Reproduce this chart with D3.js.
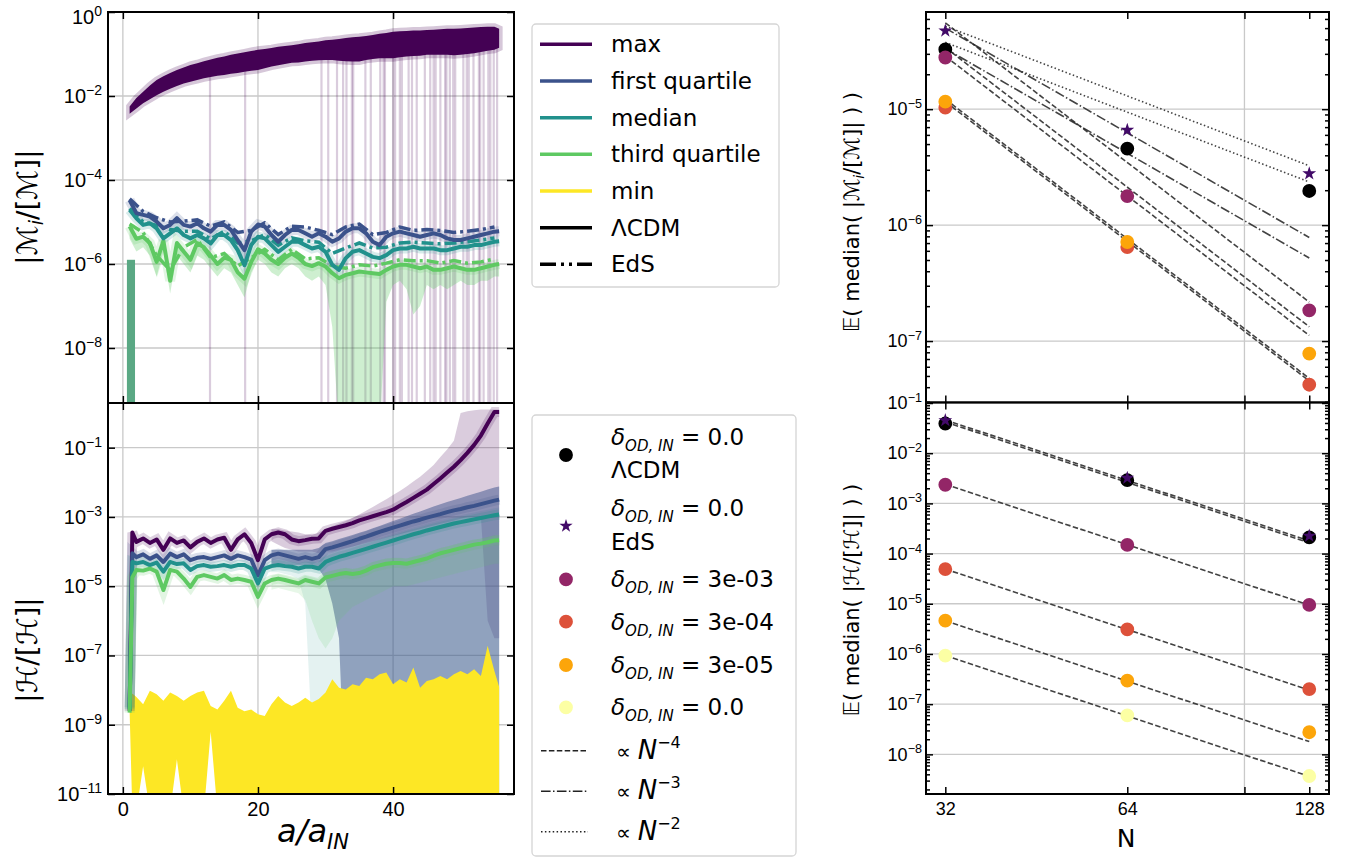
<!DOCTYPE html>
<html>
<head>
<meta charset="utf-8">
<script src="https://cdn.jsdelivr.net/npm/d3@7.9.0/dist/d3.min.js"></script>
<style>
  body { margin: 0; background: #fff; }
  svg { display: block; font-family: "DejaVu Sans", sans-serif; }
</style>
</head>
<body>
<svg id="fig" width="1363" height="857"></svg>
<script>
// ---- sample positions along a/a_IN ----
const aM = d3.range(1, 56).concat([55.7]);          // constraint M, LCDM curves
const aOdd = d3.range(1, 56, 2);                    // constraint M, EdS curves
const aH = [1, 1.4].concat(d3.range(2, 56), [55.7]); // constraint H curves
const aFill = d3.range(22, 56).concat([55.7]);      // spread bands in H panel

// ---- |M_i/[M]| (log10 values) ----
const maxMHi = [-2.25,-2.05,-1.90,-1.75,-1.62,-1.53,-1.45,-1.38,-1.32,-1.26,
  -1.22,-1.17,-1.13,-1.09,-1.06,-1.02,-0.99,-0.96,-0.93,-0.90,
  -0.88,-0.86,-0.83,-0.81,-0.79,-0.77,-0.74,-0.72,-0.70,-0.67,
  -0.66,-0.64,-0.62,-0.60,-0.59,-0.57,-0.55,-0.52,-0.50,-0.47,
  -0.46,-0.45,-0.44,-0.44,-0.43,-0.42,-0.41,-0.40,-0.40,-0.39,
  -0.38,-0.37,-0.36,-0.35,-0.35,-0.40];
const maxMLo = [-2.42,-2.30,-2.17,-2.08,-1.98,-1.90,-1.83,-1.76,-1.70,-1.66,
  -1.62,-1.58,-1.55,-1.52,-1.50,-1.47,-1.45,-1.42,-1.40,-1.38,
  -1.34,-1.30,-1.27,-1.24,-1.21,-1.20,-1.18,-1.16,-1.15,-1.14,
  -1.14,-1.16,-1.17,-1.18,-1.18,-1.14,-1.12,-1.10,-1.10,-1.10,
  -1.08,-1.06,-1.05,-1.04,-1.02,-1.02,-1.02,-1.02,-1.03,-1.02,
  -1.00,-0.98,-0.95,-0.92,-0.90,-0.85];
const q1M = [-4.48,-4.79,-4.83,-4.87,-4.99,-5.15,-5.07,-4.91,-5.07,-5.11,
  -5.03,-5.15,-5.23,-5.07,-5.07,-5.19,-5.43,-5.67,-5.23,-5.06,
  -5.11,-5.31,-5.47,-5.31,-5.19,-5.19,-5.27,-5.35,-5.27,-5.35,
  -5.47,-5.39,-5.23,-5.15,-5.15,-5.27,-5.47,-5.55,-5.35,-5.27,
  -5.23,-5.27,-5.31,-5.35,-5.31,-5.27,-5.31,-5.39,-5.43,-5.43,
  -5.39,-5.35,-5.31,-5.27,-5.23,-5.22];
const medM = [-4.71,-4.91,-5.07,-5.03,-5.15,-5.39,-5.27,-5.15,-5.31,-5.39,
  -5.31,-5.39,-5.51,-5.31,-5.31,-5.43,-5.67,-6.03,-5.55,-5.35,
  -5.39,-5.55,-5.71,-5.59,-5.47,-5.47,-5.55,-5.63,-5.59,-5.71,
  -6.02,-6.14,-5.86,-5.71,-5.67,-5.75,-5.83,-5.86,-5.79,-5.67,
  -5.63,-5.63,-5.59,-5.63,-5.63,-5.63,-5.67,-5.67,-5.63,-5.59,
  -5.59,-5.55,-5.55,-5.51,-5.47,-5.46];
const q3M = [-5.10,-5.40,-5.35,-5.50,-5.95,-5.45,-6.40,-5.50,-5.70,-5.90,
  -5.50,-5.60,-5.80,-6.00,-5.85,-5.90,-6.20,-6.35,-5.95,-5.65,
  -5.75,-5.90,-6.00,-5.85,-5.75,-5.85,-6.00,-6.05,-5.98,-6.06,
  -6.22,-6.34,-6.26,-6.22,-6.18,-6.20,-6.22,-6.24,-6.14,-6.06,
  -6.02,-6.02,-6.06,-6.10,-6.06,-6.14,-6.14,-6.10,-6.06,-6.10,
  -6.14,-6.14,-6.10,-6.06,-6.02,-6.00];
const q3MShadeLo = [-5.40,-5.70,-5.60,-5.80,-6.30,-5.70,-6.70,-5.80,-6.00,-6.20,
  -5.80,-5.90,-6.10,-6.30,-6.10,-6.20,-6.50,-6.80,-6.20,-5.90,
  -6.00,-6.20,-6.30,-6.10,-6.00,-6.10,-6.30,-6.40,-6.30,-6.50,
  -7.50,-10.0,-10.0,-10.0,-10.0,-10.0,-10.0,-10.0,-6.90,-6.50,
  -6.40,-6.60,-7.20,-7.00,-6.50,-6.60,-6.50,-6.60,-6.50,-6.40,
  -6.50,-6.50,-6.40,-6.40,-6.30,-6.30];
const q1MEdS = [-4.45,-4.75,-4.90,-5.00,-4.98,-4.95,-5.10,-5.00,-5.25,-5.20,
  -5.02,-5.30,-5.10,-5.12,-5.20,-5.30,-5.12,-5.05,-5.30,-5.25,
  -5.12,-5.20,-5.18,-5.20,-5.25,-5.22,-5.18,-5.12];
const medMEdS = [-4.68,-5.00,-5.08,-5.18,-5.22,-5.22,-5.40,-5.22,-5.50,-5.45,
  -5.30,-5.55,-5.38,-5.45,-5.48,-5.75,-5.62,-5.50,-5.62,-5.60,
  -5.50,-5.48,-5.50,-5.52,-5.50,-5.47,-5.43,-5.38];
const q3MEdS = [-5.05,-5.25,-5.80,-6.15,-5.60,-5.42,-5.85,-5.75,-6.05,-5.85,
  -5.65,-5.90,-5.65,-5.88,-5.85,-6.05,-6.10,-6.02,-6.05,-5.98,
  -5.90,-5.92,-5.92,-5.98,-5.92,-5.98,-5.95,-5.88];
// runs whose max drops far down (a/a_IN positions of the faint purple streaks)
const maxMDips = [12.9, 18.1, 29.4, 30.4, 31.7, 32.6, 33.1, 33.9, 34.1, 35.9,
  36.7, 38.1, 38.6, 38.8, 40.0, 40.3, 41.0, 41.3, 42.3, 42.8, 43.5, 44.7,
  45.5, 46.0, 46.3, 47.0, 47.7, 47.9, 48.4, 48.9, 49.2, 50.4, 50.9, 51.2,
  51.9, 52.7, 52.9, 53.4, 54.1, 54.4, 54.9, 55.4];
const startBar = { a0: 0.6, a1: 1.8, top: -5.9 };

// ---- |H/[H]| (log10 values) ----
const maxH = [-8.60,-3.45,
  -3.72,-3.62,-3.75,-3.65,-3.95,-3.62,-3.75,-3.68,-3.88,-3.72,
  -3.62,-3.75,-3.65,-3.60,-3.95,-3.65,-3.50,-3.75,-4.25,-3.65,
  -3.50,-3.45,-3.50,-3.65,-3.70,-3.67,-3.63,-3.62,-3.40,-3.34,
  -3.29,-3.24,-3.18,-3.10,-3.04,-2.98,-2.92,-2.86,-2.79,-2.68,
  -2.57,-2.45,-2.33,-2.21,-2.05,-1.89,-1.72,-1.55,-1.36,-1.15,
  -0.92,-0.65,-0.30,0.03,
  0.03];
const q1H = [-8.50,-4.05,
  -4.16,-4.08,-4.21,-4.11,-4.30,-4.06,-4.16,-4.08,-4.25,-4.18,
  -4.16,-4.21,-4.16,-4.11,-4.21,-4.11,-4.16,-4.23,-4.69,-4.25,
  -4.11,-4.06,-4.11,-4.16,-4.21,-4.16,-4.21,-4.16,-3.93,-3.88,
  -3.82,-3.76,-3.70,-3.63,-3.57,-3.50,-3.43,-3.37,-3.31,-3.25,
  -3.19,-3.13,-3.08,-3.02,-2.97,-2.92,-2.86,-2.81,-2.77,-2.72,
  -2.68,-2.63,-2.58,-2.53,
  -2.50];
const medH = [-8.55,-4.30,
  -4.34,-4.30,-4.39,-4.32,-4.58,-4.30,-4.36,-4.34,-4.53,-4.42,
  -4.39,-4.44,-4.42,-4.39,-4.44,-4.39,-4.39,-4.49,-4.92,-4.49,
  -4.42,-4.39,-4.42,-4.44,-4.49,-4.44,-4.44,-4.49,-4.30,-4.22,
  -4.15,-4.10,-4.04,-3.98,-3.92,-3.86,-3.80,-3.74,-3.68,-3.62,
  -3.56,-3.50,-3.45,-3.39,-3.34,-3.29,-3.24,-3.19,-3.15,-3.11,
  -3.07,-3.03,-2.99,-2.95,
  -2.93];
const q3H = [-8.65,-4.75,
  -4.53,-4.55,-4.49,-4.58,-5.11,-4.53,-4.58,-4.78,-5.02,-4.73,
  -4.68,-4.73,-4.78,-4.68,-4.82,-4.78,-4.82,-4.87,-5.31,-4.92,
  -4.82,-4.78,-4.82,-4.87,-4.92,-4.82,-4.87,-4.92,-4.75,-4.70,
  -4.65,-4.62,-4.65,-4.62,-4.55,-4.45,-4.40,-4.35,-4.33,-4.33,
  -4.35,-4.30,-4.25,-4.20,-4.12,-4.05,-4.00,-3.95,-3.90,-3.85,
  -3.80,-3.77,-3.73,-3.68,
  -3.67];
const minHHi = [-8.30,-8.10,
  -8.20,-8.41,-8.02,-8.12,-8.31,-8.07,-8.17,-8.31,-8.17,-8.07,
  -8.02,-8.46,-8.56,-8.31,-8.02,-8.51,-8.61,-8.56,-8.70,-8.75,
  -8.41,-8.17,-8.36,-8.46,-8.36,-8.22,-8.36,-8.26,-8.07,-7.69,
  -7.93,-7.98,-7.83,-7.88,-7.64,-7.69,-7.54,-7.49,-7.83,-7.69,
  -7.78,-7.35,-7.93,-7.74,-7.69,-7.59,-7.69,-7.54,-7.45,-7.54,
  -7.40,-7.59,-6.72,-7.45,
  -7.90];
const minHLo = [-8.60,-11.5,
  -11.5,-10.2,-11.5,-11.5,-11.5,-11.5,-10.0,-11.5,-11.5,-11.5,
  -11.5,-9.20,-11.5,-11.5,-11.5,-11.5,-11.5,-11.5,-11.5,-11.5,
  -11.5,-11.5,-11.5,-11.5,-11.5,-11.5,-11.5,-11.5,-11.5,-11.5,
  -11.5,-11.5,-11.5,-11.5,-11.5,-11.5,-11.5,-11.5,-11.5,-11.5,
  -11.5,-11.5,-11.5,-11.5,-11.5,-11.5,-11.5,-11.5,-11.5,-11.5,
  -11.5,-11.5,-11.5,-11.5,
  -11.5];
// spread over runs, a/a_IN = 22..55.7
const maxHSpreadHi = [-3.35,-3.35,-3.40,-3.42,-3.45,-3.50,-3.52,-3.45,-3.35,-3.27,
  -3.19,-3.12,-3.03,-2.93,-2.82,-2.71,-2.60,-2.49,-2.37,-2.25,
  -2.12,-1.98,-1.84,-1.67,-1.50,-1.27,-1.05,-0.80,0.00,0.05,
  0.08,0.10,0.10,0.10,0.10];
const maxHSpreadLo = [-3.70,-3.80,-3.90,-3.95,-4.00,-4.00,-4.00,-4.05,-4.00,-4.00,
  -3.95,-3.90,-3.85,-3.80,-3.75,-3.70,-3.65,-3.60,-3.55,-3.50,
  -3.45,-3.40,-3.35,-3.30,-3.25,-3.20,-3.15,-3.10,-3.05,-3.00,
  -3.00,-3.00,-6.00,-6.50,-6.50];
const q1HSpreadHi = [-3.95,-3.95,-3.95,-3.95,-3.95,-3.95,-3.95,-3.90,-3.75,-3.70,
  -3.64,-3.58,-3.52,-3.46,-3.40,-3.33,-3.26,-3.19,-3.12,-3.05,
  -2.98,-2.91,-2.84,-2.77,-2.70,-2.63,-2.57,-2.51,-2.45,-2.39,
  -2.33,-2.27,-2.21,-2.15,-2.12];
const q1HSpreadLo = [-4.40,-4.40,-4.40,-4.40,-4.40,-4.40,-4.40,-4.50,-4.80,-5.50,
  -6.50,-11.5,-11.5,-11.5,-11.5,-11.5,-11.5,-11.5,-11.5,-11.5,
  -11.5,-11.5,-11.5,-11.5,-11.5,-11.5,-11.5,-11.5,-11.5,-11.5,
  -11.5,-11.5,-11.5,-11.5,-11.5];
const medHSpreadHi = [-4.20,-4.20,-4.20,-4.20,-4.20,-4.20,-4.20,-4.25,-4.10,-4.02,
  -3.95,-3.90,-3.84,-3.78,-3.72,-3.66,-3.60,-3.54,-3.48,-3.42,
  -3.36,-3.30,-3.25,-3.19,-3.14,-3.09,-3.04,-2.99,-2.95,-2.91,
  -2.87,-2.83,-2.79,-2.75,-2.73];
const medHSpreadLo = [-4.60,-4.60,-4.65,-4.70,-4.80,-5.50,-9.30,-9.30,-9.00,-9.30,
  -9.40,-11.5,-11.5,-11.5,-11.5,-11.5,-11.5,-11.5,-11.5,-11.5,
  -11.5,-11.5,-11.5,-11.5,-11.5,-11.5,-11.5,-11.5,-11.5,-11.5,
  -11.5,-11.5,-11.5,-11.5,-11.5];
const q3HSpreadHi = [-4.70,-4.65,-4.70,-4.75,-4.80,-4.70,-4.75,-4.80,-4.60,-4.55,
  -4.50,-4.47,-4.50,-4.47,-4.40,-4.30,-4.25,-4.20,-4.18,-4.18,
  -4.20,-4.15,-4.10,-4.05,-3.97,-3.90,-3.85,-3.80,-3.75,-3.70,
  -3.65,-3.62,-3.58,-3.53,-3.52];
const q3HSpreadLo = [-5.10,-5.05,-5.10,-5.15,-5.20,-5.40,-6.00,-6.50,-6.80,-6.50,
  -6.00,-5.80,-5.60,-5.50,-5.40,-5.30,-5.20,-5.10,-5.00,-5.00,
  -5.00,-4.95,-4.90,-4.85,-4.80,-4.75,-4.70,-4.65,-4.60,-4.55,
  -4.50,-4.45,-4.40,-4.35,-4.35];

// ---- convergence with resolution N (right column) ----
const resN = [32, 64, 128];
const convM_LCDM = [3.27e-5, 4.57e-6, 1.97e-6];
const convM_EdS  = [4.74e-5, 6.6e-6, 2.78e-6];
const convM_3e3  = [2.79e-5, 1.78e-6, 1.84e-7];
const convM_3e4  = [1.03e-5, 6.47e-7, 4.2e-8];
const convM_3e5  = [1.16e-5, 7.15e-7, 7.8e-8];
const convH_LCDM = [3.9e-2, 2.9e-3, 2.1e-4];
const convH_EdS  = [4.5e-2, 3.2e-3, 2.25e-4];
const convH_3e3  = [2.35e-3, 1.49e-4, 9.5e-6];
const convH_3e4  = [4.9e-5, 3.1e-6, 2.0e-7];
const convH_3e5  = [4.6e-6, 2.94e-7, 2.76e-8];
const convH_0    = [9.3e-7, 6.0e-8, 3.7e-9];
// reference power laws: value at N=32 and exponent
const fitMAt32  = [5.2e-5, 3.77e-5, 5.0e-5, 3.33e-5, 5.55e-5, 3.4e-5, 2.86e-5, 1.22e-5, 1.16e-5];
const fitMPower = [2, 2, 3, 3, 4, 4, 4, 4, 4];
const fitHAt32  = [4.6e-2, 4.2e-2, 2.4e-3, 4.9e-5, 4.6e-6, 9.3e-7];
const fitHPower = [4, 4, 4, 4, 4, 4];

const leftLegendLabels = ["max", "first quartile", "median", "third quartile", "min", "ΛCDM", "EdS"];
const deltaLabels = ["0.0", "0.0", "3e-03", "3e-04", "3e-05", "0.0"];
const powerLabels = ["4", "3", "2"];

// ---- colours ----
const C = { max: "#440154", q1: "#3b528b", med: "#21918c", q3: "#5ec962", min: "#fde725" };
const P = { lcdm: "#000000", eds: "#420a68", d3e3: "#932667", d3e4: "#dd513a", d3e5: "#fca50a", d0: "#fcffa4" };
const dashOf = { 4: "5.5,2.4", 3: "9.6,2.4,1.5,2.4", 2: "1.5,2.4" };

const svg = d3.select("#fig");
svg.append("rect").attr("width", 1363).attr("height", 857).attr("fill", "#fff");
const defs = svg.append("defs");

// scales
const xA  = d3.scaleLinear().domain([-2.2, 57.9]).range([108, 514]);
const yMl = d3.scaleLog().domain([10 ** -9.31, 1]).range([403, 12]);
const yHl = d3.scaleLog().domain([1e-11, 10 ** 0.29]).range([794, 403]);
const xN  = d3.scaleLog().base(2).domain([29.73, 138]).range([926, 1329]);
const yMr = d3.scaleLog().domain([10 ** -7.53, 10 ** -4.162]).range([402.5, 12]);
const yHr = d3.scaleLog().domain([10 ** -8.79, 10 ** -0.99]).range([794, 402.5]);

function clipped(id, x, y) {
  const [x0, x1] = x.range(), [y1, y0] = y.range();
  defs.append("clipPath").attr("id", id).append("rect")
    .attr("x", x0).attr("y", y0).attr("width", x1 - x0).attr("height", y1 - y0);
  return svg.append("g").attr("clip-path", `url(#${id})`);
}

function grid(g, x, y, xs, ys) {
  const [x0, x1] = x.range(), [y1, y0] = y.range();
  g.selectAll(null).data(ys).enter().append("line")
    .attr("x1", x0).attr("x2", x1).attr("y1", d => y(d)).attr("y2", d => y(d))
    .attr("stroke", "#c9c9c9").attr("stroke-width", 1.3);
  g.selectAll(null).data(xs).enter().append("line")
    .attr("y1", y0).attr("y2", y1).attr("x1", d => x(d)).attr("x2", d => x(d))
    .attr("stroke", "#c9c9c9").attr("stroke-width", 1.3);
}

const rows = (as, vals) => as.map((a, i) => ({ a, v: 10 ** vals[i] }));
const bandRows = (as, lo, hi) => as.map((a, i) => ({ a, lo: 10 ** lo[i], hi: 10 ** hi[i] }));
// linear interpolation of a sampled curve at position a
function at(as, vals, a) {
  const i = Math.min(Math.max(d3.bisectRight(as, a), 1), as.length - 1);
  const t = (a - as[i - 1]) / (as[i] - as[i - 1]);
  return vals[i - 1] + t * (vals[i] - vals[i - 1]);
}

function supLabels(sel, fs) {
  sel.selectAll(".tick text").each(function (d) {
    const e = Math.round(Math.log10(d));
    const t = d3.select(this).text("10").attr("font-size", fs).attr("fill", "#000");
    // keep the topmost label (10^0) inside the picture
    if (e === 0) t.attr("dy", "0.55em");
    t.append("tspan").attr("dy", -fs * 0.4).attr("font-size", fs * 0.7)
      .text(e < 0 ? "\u2212" + (-e) : String(e));
  });
}

function frame(x, y) {
  const [x0, x1] = x.range(), [y1, y0] = y.range();
  svg.append("rect").attr("x", x0).attr("y", y0).attr("width", x1 - x0).attr("height", y1 - y0)
    .attr("fill", "none").attr("stroke", "#000").attr("stroke-width", 2);
}

function axes(x, y, o) {
  const [x0, x1] = x.range(), [y1, y0] = y.range();
  const style = g => { g.select(".domain").remove(); g.selectAll(".tick line").attr("stroke-width", 1.5); };
  const left = svg.append("g").attr("transform", `translate(${x0},0)`)
    .call(d3.axisLeft(y).tickValues(o.yTicks).tickSize(-7).tickPadding(o.yPad)).call(style);
  supLabels(left, o.yFs);
  svg.append("g").attr("transform", `translate(${x1},0)`)
    .call(d3.axisRight(y).tickValues(o.yTicks).tickSize(-7).tickFormat("")).call(style);
  if (o.yMinor) {
    svg.append("g").attr("transform", `translate(${x0},0)`)
      .call(d3.axisLeft(y).tickValues(o.yMinor).tickSize(-4).tickFormat("")).call(style);
    svg.append("g").attr("transform", `translate(${x1},0)`)
      .call(d3.axisRight(y).tickValues(o.yMinor).tickSize(-4).tickFormat("")).call(style);
  }
  const bottom = svg.append("g").attr("transform", `translate(0,${y1})`)
    .call(d3.axisBottom(x).tickValues(o.xTicks).tickSize(-7).tickPadding(8)
      .tickFormat(o.xLabels ? o.xFormat : "")).call(style);
  bottom.selectAll(".tick text").attr("font-size", o.xFs).attr("fill", "#000");
  svg.append("g").attr("transform", `translate(0,${y0})`)
    .call(d3.axisTop(x).tickValues(o.xTicks).tickSize(-7).tickFormat("")).call(style);
}

function minorTicks(lo, hi) {
  const out = [];
  for (let e = lo; e <= hi; e++) for (let m = 2; m <= 9; m++) out.push(m * 10 ** e);
  return out;
}

// ================= top-left: |M_i/[M]| =================
{
  const g = clipped("cML", xA, yMl);
  grid(g, xA, yMl, [0, 20, 40], [1, 1e-2, 1e-4, 1e-6, 1e-8]);

  // faint purple streaks of runs whose max drops out, hanging from the band
  g.selectAll(null).data(maxMDips).enter().append("rect")
    .attr("x", d => xA(d) - 1.1).attr("width", 2.2)
    .attr("y", d => yMl(10 ** (at(aM, maxMLo, d) + 0.1)))
    .attr("height", d => 403 - yMl(10 ** (at(aM, maxMLo, d) + 0.1)))
    .attr("fill", C.max).attr("opacity", 0.2);

  const area = d3.area().x(d => xA(d.a)).y0(d => yMl(d.lo)).y1(d => yMl(d.hi));
  const maxBand = bandRows(aM, maxMLo, maxMHi);
  g.append("path").attr("d", area(maxBand)).attr("fill", "none")
    .attr("stroke", C.max).attr("stroke-opacity", 0.22).attr("stroke-width", 7);
  g.append("path").attr("d", area(maxBand)).attr("fill", C.max);

  // third quartile spread
  g.append("path").attr("d", area(bandRows(aM, q3MShadeLo, q3M)))
    .attr("fill", C.q3).attr("opacity", 0.3);
  g.append("rect").attr("x", xA(startBar.a0)).attr("width", xA(startBar.a1) - xA(startBar.a0))
    .attr("y", yMl(10 ** startBar.top)).attr("height", 403 - yMl(10 ** startBar.top))
    .attr("fill", "#5aa884");

  const line = d3.line().x(d => xA(d.a)).y(d => yMl(d.v));
  const series = [
    [q3M, q3MEdS, C.q3], [medM, medMEdS, C.med], [q1M, q1MEdS, C.q1]
  ];
  series.forEach(([lc, eds, col]) => {
    g.append("path").attr("d", line(rows(aM, lc))).attr("fill", "none")
      .attr("stroke", col).attr("stroke-opacity", 0.18).attr("stroke-width", 10);
  });
  series.forEach(([lc, eds, col]) => {
    g.append("path").attr("d", line(rows(aOdd, eds))).attr("fill", "none")
      .attr("stroke", col).attr("stroke-width", 3.5).attr("stroke-dasharray", "12,4,3,4");
    g.append("path").attr("d", line(rows(aM, lc))).attr("fill", "none")
      .attr("stroke", col).attr("stroke-width", 4).attr("stroke-linejoin", "round");
  });

  frame(xA, yMl);
  axes(xA, yMl, { yTicks: [1, 1e-2, 1e-4, 1e-6, 1e-8], yPad: 6, yFs: 20, xTicks: [0, 20, 40], xLabels: false });
}

// ================= bottom-left: |H/[H]| =================
{
  const g = clipped("cHL", xA, yHl);
  grid(g, xA, yHl, [0, 20, 40], [1e-1, 1e-3, 1e-5, 1e-7, 1e-9, 1e-11]);

  const area = d3.area().x(d => xA(d.a)).y0(d => yHl(d.lo)).y1(d => yHl(d.hi));
  g.append("path").attr("d", area(bandRows(aFill, maxHSpreadLo, maxHSpreadHi)))
    .attr("fill", C.max).attr("opacity", 0.2);
  g.append("path").attr("d", area(bandRows(aFill, medHSpreadLo, medHSpreadHi)))
    .attr("fill", C.med).attr("opacity", 0.12);
  g.append("path").attr("d", area(bandRows(aFill, q1HSpreadLo, q1HSpreadHi)))
    .attr("fill", C.q1).attr("opacity", 0.5);
  g.append("path").attr("d", area(bandRows(aFill, q3HSpreadLo, q3HSpreadHi)))
    .attr("fill", C.q3).attr("opacity", 0.15);

  g.append("path").attr("d", area(bandRows(aH, minHLo, minHHi))).attr("fill", C.min);

  const line = d3.line().x(d => xA(d.a)).y(d => yHl(d.v));
  [[maxH, C.max], [q1H, C.q1], [medH, C.med], [q3H, C.q3]].forEach(([vals, col]) => {
    g.append("path").attr("d", line(rows(aH, vals))).attr("fill", "none")
      .attr("stroke", col).attr("stroke-opacity", 0.18).attr("stroke-width", 10);
  });
  [[maxH, C.max], [q1H, C.q1], [medH, C.med], [q3H, C.q3]].forEach(([vals, col]) => {
    g.append("path").attr("d", line(rows(aH, vals))).attr("fill", "none")
      .attr("stroke", col).attr("stroke-width", 4).attr("stroke-linejoin", "round");
  });

  frame(xA, yHl);
  axes(xA, yHl, { yTicks: [1e-1, 1e-3, 1e-5, 1e-7, 1e-9, 1e-11], yPad: 6, yFs: 20,
    xTicks: [0, 20, 40], xLabels: true, xFormat: d3.format("d"), xFs: 20 });
}

// ================= right column =================
const star = d3.symbol().type(d3.symbolStar).size(60);
const dot = d3.symbol().type(d3.symbolCircle).size(150);

function convPanel(id, y, fitAt, fitPow, sets, yTicks, minor, xLabels) {
  const g = clipped(id, xN, y);
  grid(g, xN, y, [100], yTicks);
  const line = d3.line().x(d => xN(d.n)).y(d => y(d.v));
  fitAt.forEach((v0, i) => {
    const p = fitPow[i];
    g.append("path").attr("d", line([32, 128].map(n => ({ n, v: v0 * (n / 32) ** -p }))))
      .attr("fill", "none").attr("stroke", "#222").attr("stroke-opacity", 0.85)
      .attr("stroke-width", 1.6).attr("stroke-dasharray", dashOf[p]);
  });
  sets.forEach(([vals, col, shape]) => {
    g.selectAll(null).data(resN.map((n, i) => ({ n, v: vals[i] }))).enter().append("path")
      .attr("transform", d => `translate(${xN(d.n)},${y(d.v)})`)
      .attr("d", shape === "star" ? star() : dot()).attr("fill", col);
  });
  frame(xN, y);
  axes(xN, y, { yTicks, yPad: 4, yFs: 18, yMinor: minor, xTicks: [32, 64, 100, 128],
    xLabels, xFormat: d => (d === 100 ? "" : d), xFs: 18 });
}

convPanel("cMR", yMr, fitMAt32, fitMPower, [
  [convM_LCDM, P.lcdm, "dot"], [convM_EdS, P.eds, "star"], [convM_3e3, P.d3e3, "dot"],
  [convM_3e4, P.d3e4, "dot"], [convM_3e5, P.d3e5, "dot"]
], [1e-5, 1e-6, 1e-7], minorTicks(-8, -5).filter(v => v > 10 ** -7.53 && v < 10 ** -4.162), false);

convPanel("cHR", yHr, fitHAt32, fitHPower, [
  [convH_LCDM, P.lcdm, "dot"], [convH_EdS, P.eds, "star"], [convH_3e3, P.d3e3, "dot"],
  [convH_3e4, P.d3e4, "dot"], [convH_3e5, P.d3e5, "dot"], [convH_0, P.d0, "dot"]
], [1e-1, 1e-2, 1e-3, 1e-4, 1e-5, 1e-6, 1e-7, 1e-8],
  minorTicks(-9, -2).filter(v => v > 10 ** -8.79 && v < 10 ** -0.99), true);

// ================= axis titles =================
{
  const t1 = svg.append("text").attr("transform", "translate(37,207) rotate(-90)")
    .attr("text-anchor", "middle").attr("font-size", 28);
  t1.append("tspan").text("|\u2133");
  t1.append("tspan").attr("font-size", 19).attr("font-style", "italic").attr("dy", 6).text("i");
  t1.append("tspan").attr("dy", -6).text("/[\u2133]|");

  svg.append("text").attr("transform", "translate(37,650) rotate(-90)")
    .attr("text-anchor", "middle").attr("font-size", 28).text("|\u210B/[\u210B]|");

  const xl = svg.append("text").attr("x", 313).attr("y", 842).attr("text-anchor", "middle")
    .attr("font-size", 32).attr("font-style", "italic");
  xl.append("tspan").text("a/a");
  xl.append("tspan").attr("font-size", 21).attr("dy", 7).text("IN");

  const r1 = svg.append("text").attr("transform", "translate(859,212) rotate(-90)")
    .attr("text-anchor", "middle").attr("font-size", 21);
  r1.append("tspan").text("\u{1D53C}( median( |\u2133");
  r1.append("tspan").attr("font-size", 14).attr("font-style", "italic").attr("dy", 5).text("i");
  r1.append("tspan").attr("dy", -5).text("/[\u2133]| ) )");

  svg.append("text").attr("transform", "translate(859,600) rotate(-90)")
    .attr("text-anchor", "middle").attr("font-size", 21)
    .text("\u{1D53C}( median( |\u210B/[\u210B]| ) )");

  svg.append("text").attr("x", 1126).attr("y", 847).attr("text-anchor", "middle")
    .attr("font-size", 25).text("N");
}

// ================= legends =================
{
  const lg = svg.append("g");
  lg.append("rect").attr("x", 532).attr("y", 24).attr("width", 247).attr("height", 263)
    .attr("rx", 4).attr("fill", "#fff").attr("stroke", "#d5d5d5").attr("stroke-width", 1.3);
  const cols = [C.max, C.q1, C.med, C.q3, C.min, "#000", "#000"];
  leftLegendLabels.forEach((lab, i) => {
    const y = 44.3 + i * 36.67;
    lg.append("line").attr("x1", 540).attr("x2", 592).attr("y1", y).attr("y2", y)
      .attr("stroke", cols[i]).attr("stroke-width", 3.5)
      .attr("stroke-dasharray", lab === "EdS" ? "16,5,3,5,3,5" : null);
    lg.append("text").attr("x", 611).attr("y", y + 8).attr("font-size", 23).text(lab);
  });

  const lg2 = svg.append("g");
  lg2.append("rect").attr("x", 532).attr("y", 415).attr("width", 264).attr("height", 441)
    .attr("rx", 4).attr("fill", "#fff").attr("stroke", "#d5d5d5").attr("stroke-width", 1.3);
  const markCols = [P.lcdm, P.eds, P.d3e3, P.d3e4, P.d3e5, P.d0];
  const markY = [455, 526, 579.3, 621.7, 665, 707.3];
  const textY = [436.7, 508.3, 579.3, 621.7, 665, 707.3];
  const extra = ["ΛCDM", "EdS"];
  deltaLabels.forEach((val, i) => {
    lg2.append("path").attr("transform", `translate(566,${markY[i]})`)
      .attr("d", i === 1 ? d3.symbol().type(d3.symbolStar).size(55)() : dot()).attr("fill", markCols[i]);
    const t = lg2.append("text").attr("x", 611).attr("y", textY[i] + 8).attr("font-size", 23);
    t.append("tspan").attr("font-style", "italic").text("δ");
    t.append("tspan").attr("font-style", "italic").attr("font-size", 15).attr("dy", 6).text("OD, IN");
    t.append("tspan").attr("dy", -6).text(" = " + val);
    if (i < 2) lg2.append("text").attr("x", 611).attr("y", textY[i] + 33.3 + 8)
      .attr("font-size", 23).text(extra[i]);
  });
  powerLabels.forEach((p, i) => {
    const y = 750.7 + i * 40.5;
    lg2.append("line").attr("x1", 541).attr("x2", 588).attr("y1", y).attr("y2", y)
      .attr("stroke", "#222").attr("stroke-width", 1.6).attr("stroke-dasharray", dashOf[+p]);
    const t = lg2.append("text").attr("x", 616).attr("y", y + 8).attr("font-size", 21);
    t.append("tspan").text("\u221D ");
    t.append("tspan").attr("font-style", "italic").attr("font-size", 26).text("N");
    t.append("tspan").attr("font-size", 16).attr("dy", -11).text("\u2212" + p);
  });
}
</script>
</body>
</html>
